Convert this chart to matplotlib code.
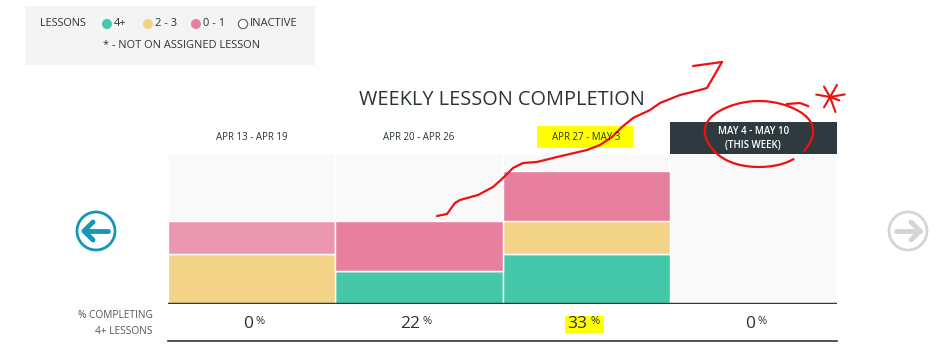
import matplotlib
matplotlib.use("Agg")
import matplotlib.pyplot as plt
from matplotlib.patches import Rectangle, Circle
import numpy as np

plt.rcParams['font.family'] = ['Open Sans', 'DejaVu Sans']

# ---------------- data ----------------
weeks = ["APR 13 - APR 19", "APR 20 - APR 26", "APR 27 - MAY 3", "MAY 4 - MAY 10"]
lessons_4plus = [0, 2, 3, 0]
lessons_2_3 = [3, 0, 2, 0]
lessons_0_1 = [2, 3, 3, 0]
total_students = 9
pct_labels = [f"{round(100 * g / total_students)}" for g in lessons_4plus]

legend_labels = ["4+", "2 - 3", "0 - 1", "INACTIVE"]

# ---------------- style ----------------
GREEN = "#45c8a9"
YELLOW = "#f3d387"
PINK = "#e77f9f"
PINK_LIGHT = "#ec97b0"
BG = "#f9f9f9"
DARK = "#2e3a3f"
TXT = "#2b3338"

W, H = 948, 358
fig = plt.figure(figsize=(W / 100, H / 100), dpi=100)
fig.patch.set_facecolor("white")

# bar axes in pixel placement
x0, x1, ytop, ybot = 168, 837, 154, 304
ax = fig.add_axes([x0 / W, (H - ybot) / H, (x1 - x0) / W, (ybot - ytop) / H])
ax.set_xlim(0, 4)
ax.set_ylim(0, total_students)
ax.axis("off")

xs = np.arange(len(weeks)) + 0.5
ax.bar(xs, [total_students] * len(weeks), width=1.0, color=BG, edgecolor="white", linewidth=1.2, zorder=1)
pinks = [PINK_LIGHT, PINK, PINK, PINK]
b1 = np.array(lessons_4plus)
b2 = b1 + np.array(lessons_2_3)
ax.bar(xs, lessons_4plus, width=1.0, color=GREEN, edgecolor="white", linewidth=1.0, zorder=2)
ax.bar(xs, lessons_2_3, bottom=b1, width=1.0, color=YELLOW, edgecolor="white", linewidth=1.0, zorder=2)
ax.bar(xs, lessons_0_1, bottom=b2, width=1.0, color=pinks, edgecolor="white", linewidth=1.0, zorder=2)
ax.axhline(0, color=DARK, linewidth=2.5, zorder=5)

# overlay axes in pixel coordinates
ov = fig.add_axes([0, 0, 1, 1], zorder=10)
ov.set_xlim(0, W)
ov.set_ylim(H, 0)
ov.axis("off")
ov.patch.set_alpha(0)

# legend box
ov.add_patch(Rectangle((25, 6), 290, 59, facecolor="#f4f4f4", edgecolor="none"))
ov.text(40, 24, "LESSONS", fontsize=7.8, color=TXT, va="center", ha="left")
leg_colors = [GREEN, YELLOW, PINK, None]
leg_dot_x = [107, 148, 196, 243]
for cx, c, lab in zip(leg_dot_x, leg_colors, legend_labels):
    if c is None:
        ov.add_patch(Circle((cx, 24), 4.6, facecolor="white", edgecolor="#666666", linewidth=0.9))
    else:
        ov.add_patch(Circle((cx, 24), 5, facecolor=c, edgecolor="none"))
    ov.text(cx + 7, 24, lab, fontsize=8, color=TXT, va="center", ha="left")
ov.text(182, 46, "* - NOT ON ASSIGNED LESSON", fontsize=7.9, color=TXT, va="center", ha="center")

# title
ov.text(502, 100, "WEEKLY LESSON COMPLETION", fontsize=14.3, color=TXT, va="center", ha="center")

# header labels
col_w = (x1 - x0) / 4
centers = [x0 + col_w * (i + 0.5) for i in range(4)]
ov.add_patch(Rectangle((537, 126), 96, 22, facecolor="#ffff00", edgecolor="none"))
for i in range(3):
    ov.text(centers[i], 138, weeks[i], fontsize=7, color=TXT, va="center", ha="center")
ov.add_patch(Rectangle((x0 + 3 * col_w, 122), col_w, 32, facecolor=DARK, edgecolor="none"))
ov.text(centers[3], 131, weeks[3], fontsize=7, color="white", va="center", ha="center", fontweight="semibold")
ov.text(centers[3], 145, "(THIS WEEK)", fontsize=7, color="white", va="center", ha="center", fontweight="semibold")

# bottom row
ov.text(153, 316, "% COMPLETING", fontsize=7.3, color="#555555", va="center", ha="right")
ov.text(153, 331, "4+ LESSONS", fontsize=7.3, color="#555555", va="center", ha="right")
ov.add_patch(Rectangle((565, 316), 39, 17, facecolor="#ffff00", edgecolor="none"))
for cx, p in zip(centers, pct_labels):
    ov.text(cx + 1.5, 324.5, p, fontsize=12.5, color=TXT, va="center", ha="right")
    ov.text(cx + 4, 322, "%", fontsize=8, color=TXT, va="center", ha="left")
ov.plot([x0, x1], [340.5, 340.5], color=DARK, linewidth=1.2)

# navigation arrows
def nav(cx, cy, color, direction):
    ov.add_patch(Circle((cx, cy), 19, facecolor="none", edgecolor=color, linewidth=2))
    d = direction
    tip = cx - 12 * d
    ov.plot([tip, cx + 12 * d], [cy, cy], color=color, linewidth=3.5, solid_capstyle="round")
    ov.plot([tip + 9 * d, tip, tip + 9 * d], [cy - 9, cy, cy + 9], color=color, linewidth=3.5,
            solid_capstyle="round", solid_joinstyle="round")

nav(96, 231, "#1597b8", 1)
nav(908, 231, "#d5d5d5", -1)

# hand-drawn red annotations
RED = "#ee1111"
sx = [437, 447, 455, 460, 478, 493, 503, 513, 523, 537, 557, 587, 600, 612, 622, 633, 650, 660, 680, 700, 707, 722]
sy = [216, 214, 203, 200, 195, 187, 178, 168, 163, 162, 157, 150, 145, 137, 127, 118, 110, 103, 95, 90, 88, 62]
ov.plot(sx, sy, color=RED, linewidth=1.6, solid_capstyle="round", solid_joinstyle="round")
ov.plot([693, 722], [66, 62], color=RED, linewidth=1.6, solid_capstyle="round")

th = np.linspace(np.deg2rad(-50), np.deg2rad(-50 - 340), 200)
ex = 759 + 54 * np.cos(th) * (1 + 0.03 * np.sin(3 * th))
ey = 134 - 33 * np.sin(th)
ov.plot(ex, ey, color=RED, linewidth=1.6)
ov.plot([787, 800, 808], [104, 103, 106], color=RED, linewidth=1.6)

acx, acy = 830, 97
for ang, r in [(10, 15), (170, 14), (60, 14), (120, 12), (-70, 16), (-120, 12), (-20, 10)]:
    a = np.deg2rad(ang)
    ov.plot([acx, acx + r * np.cos(a)], [acy, acy - r * np.sin(a)], color=RED, linewidth=1.5,
            solid_capstyle="round")

fig.savefig("out.png", dpi=100)
